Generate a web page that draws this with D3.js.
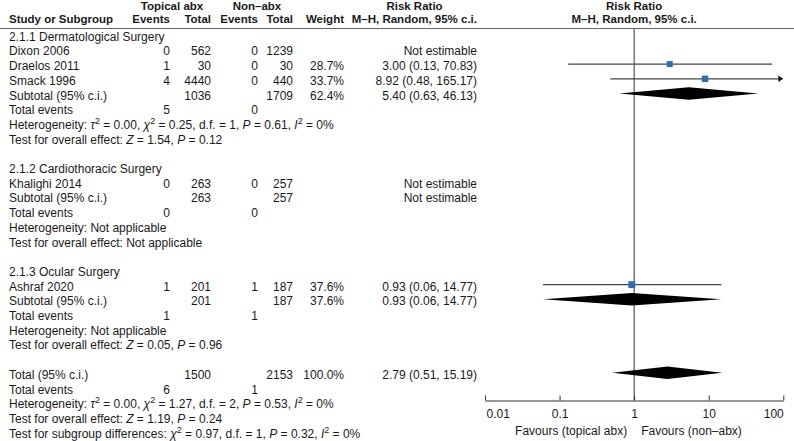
<!DOCTYPE html>
<html>
<head>
<meta charset="utf-8">
<script src="https://cdn.jsdelivr.net/npm/d3@7"></script>
<style>
  html, body { margin: 0; padding: 0; background: #fff; }
  svg { display: block; }
  text { font-family: "Liberation Sans", Arial, Helvetica, sans-serif; font-size: 12px; fill: #1a1a1a; }
  .bold { font-weight: bold; font-size: 11.5px; }
</style>
</head>
<body>
<svg id="chart" width="794" height="441"></svg>
<script>
// ---------- DATA ----------
const studyNames     = ["Dixon 2006", "Draelos 2011", "Smack 1996", "Khalighi 2014", "Ashraf 2020"];
const topicalEvents  = [0, 1, 4, 0, 1];
const topicalTotals  = [562, 30, 4440, 263, 201];
const nonEvents      = [0, 0, 0, 0, 1];
const nonTotals      = [1239, 30, 440, 257, 187];
const studyWeights   = [null, 28.7, 33.7, null, 37.6];
const studyRR        = [null, 3.00, 8.92, null, 0.93];
const studyLower     = [null, 0.13, 0.48, null, 0.06];
const studyUpper     = [null, 70.83, 165.17, null, 14.77];

const subgroupNames    = ["2.1.1 Dermatological Surgery", "2.1.2 Cardiothoracic Surgery", "2.1.3 Ocular Surgery"];
const subgroupMembers  = [[0, 1, 2], [3], [4]];
const subTopicalTotals = [1036, 263, 201];
const subNonTotals     = [1709, 257, 187];
const subTopicalEvents = [5, 0, 1];
const subNonEvents     = [0, 0, 1];
const subWeights       = [62.4, null, 37.6];
const subRR            = [5.40, null, 0.93];
const subLower         = [0.63, null, 0.06];
const subUpper         = [46.13, null, 14.77];
// heterogeneity: [tau2, chi2, df, P, I2] or null = not applicable
const subHeterogeneity = [["0.00", "0.25", "1", "0.61", "0%"], null, null];
// overall effect: [Z, P] or null
const subEffect        = [["1.54", "0.12"], null, ["0.05", "0.96"]];

const totalTopical = 1500, totalNon = 2153, totalWeight = 100.0;
const totalRR = 2.79, totalLower = 0.51, totalUpper = 15.19;
const totalTopicalEvents = 6, totalNonEvents = 1;
const totalHeterogeneity = ["0.00", "1.27", "2", "0.53", "0%"];
const totalEffect = ["1.19", "0.24"];
const subgroupDiff = ["0.97", "1", "0.32", "0%"]; // chi2, df, P, I2

const axisTicks = [0.01, 0.1, 1, 10, 100];
const axisTickLabels = ["0.01", "0.1", "1", "10", "100"];
const favoursLeft = "Favours (topical abx)";
const favoursRight = "Favours (non\u2013abx)";

// ---------- LAYOUT ----------
const svg = d3.select("#chart");
const row0 = 34.7, rowH = 14.7;
const rowY = i => row0 + i * rowH;
const textOff = 6;
const col = { name: 9, tEv: 170, tTot: 211, nEv: 258, nTot: 293, w: 344, rr: 477 };
const lineColor = "#444";
const squareColor = "#2d6db5";

const x = d3.scaleLog().domain([0.01, 100]).range([485, 783.3]);
const sz = d3.scaleSqrt().domain([0, 100]).range([0, 11.2]);
const axisY = 400.5;

// ---------- HEADER ----------
const hdr1 = 9.5, hdr2 = 23;
const H = (t, xx, y, anchor) => svg.append("text").attr("class", "bold").attr("x", xx).attr("y", y)
  .attr("text-anchor", anchor).text(t);
H("Topical abx", (133 + col.tTot) / 2, hdr1, "middle");
H("Non\u2013abx", (221 + col.nTot) / 2, hdr1, "middle");
H("Risk Ratio", (352 + col.rr) / 2, hdr1, "middle");
H("Risk Ratio", x(1), hdr1, "middle");
H("Study or Subgroup", col.name, hdr2, "start");
H("Events", col.tEv, hdr2, "end");
H("Total", col.tTot, hdr2, "end");
H("Events", col.nEv, hdr2, "end");
H("Total", col.nTot, hdr2, "end");
H("Weight", col.w, hdr2, "end");
H("M\u2013H, Random, 95% c.i.", col.rr, hdr2, "end");
H("M\u2013H, Random, 95% c.i.", x(1), hdr2, "middle");

svg.append("line").attr("x1", 0).attr("x2", 794).attr("y1", 28.5).attr("y2", 28.5)
  .attr("stroke", "#666").attr("stroke-width", 1);

// ---------- ROWS ----------
const rows = [];
subgroupNames.forEach((g, gi) => {
  rows.push({ kind: "heading", label: g });
  subgroupMembers[gi].forEach(si => rows.push({ kind: "study", si }));
  rows.push({ kind: "subtotal", gi });
  rows.push({ kind: "events", top: subTopicalEvents[gi], non: subNonEvents[gi] });
  rows.push({ kind: "het", h: subHeterogeneity[gi] });
  rows.push({ kind: "effect", e: subEffect[gi] });
  rows.push({ kind: "blank" });
});
rows.push({ kind: "total" });
rows.push({ kind: "events", top: totalTopicalEvents, non: totalNonEvents });
rows.push({ kind: "het", h: totalHeterogeneity });
rows.push({ kind: "effect", e: totalEffect });
rows.push({ kind: "diff" });

const fmtRR = (r, l, u) => r == null ? "Not estimable" : `${r.toFixed(2)} (${l.toFixed(2)}, ${u.toFixed(2)})`;
const fmtW = w => w == null ? "" : w.toFixed(1) + "%";

function T(t, xx, y, anchor) {
  return svg.append("text").attr("x", xx).attr("y", y).attr("text-anchor", anchor || "start").text(t);
}
function rich(xx, y, segs) {
  const t = svg.append("text").attr("x", xx).attr("y", y);
  segs.forEach(s => {
    const sp = t.append("tspan").text(s[0]);
    if (s[1] === "i") sp.attr("font-style", "italic");
    if (s[1] === "sup") sp.attr("baseline-shift", "super").attr("font-size", "9px");
  });
  return t;
}
const hetSegs = h => [["Heterogeneity: "], ["\u03C4", "i"], ["2", "sup"], [` = ${h[0]}, `], ["\u03C7", "i"], ["2", "sup"],
  [` = ${h[1]}, d.f. = ${h[2]}, `], ["P", "i"], [` = ${h[3]}, `], ["I", "i"], ["2", "sup"], [` = ${h[4]}`]];

function square(y, w, r) {
  const s = sz(w);
  svg.append("rect").attr("x", x(r) - s / 2).attr("y", y - s / 2).attr("width", s).attr("height", s)
    .attr("fill", squareColor);
}
function ciLine(y, lo, hi) {
  const lx = x(Math.max(lo, 0.01)), hx = x(Math.min(hi, 100));
  const clipHi = hi > 100;
  svg.append("line").attr("x1", lx).attr("x2", clipHi ? hx - 4 : hx).attr("y1", y).attr("y2", y)
    .attr("stroke", lineColor).attr("stroke-width", 1.2);
  if (clipHi) {
    svg.append("path").attr("d", d3.line()([[hx, y], [hx - 5, y - 3.2], [hx - 5, y + 3.2]]) + "Z")
      .attr("fill", "#111");
  }
}
function diamond(y, r, lo, hi) {
  const h = 6.3;
  svg.append("path").attr("d", d3.line()([[x(lo), y], [x(r), y - h], [x(hi), y], [x(r), y + h]]) + "Z")
    .attr("fill", "#000");
}

rows.forEach((r, i) => {
  const yc = rowY(i), yb = yc + textOff;
  switch (r.kind) {
    case "heading": T(r.label, col.name, yb); break;
    case "study": {
      const s = r.si;
      T(studyNames[s], col.name, yb);
      T(topicalEvents[s], col.tEv, yb, "end");
      T(topicalTotals[s], col.tTot, yb, "end");
      T(nonEvents[s], col.nEv, yb, "end");
      T(nonTotals[s], col.nTot, yb, "end");
      T(fmtW(studyWeights[s]), col.w, yb, "end");
      T(fmtRR(studyRR[s], studyLower[s], studyUpper[s]), col.rr, yb, "end");
      if (studyRR[s] != null) {
        ciLine(yc, studyLower[s], studyUpper[s]);
        square(yc, studyWeights[s], studyRR[s]);
      }
      break;
    }
    case "subtotal": {
      const g = r.gi;
      T("Subtotal (95% c.i.)", col.name, yb);
      T(subTopicalTotals[g], col.tTot, yb, "end");
      T(subNonTotals[g], col.nTot, yb, "end");
      T(fmtW(subWeights[g]), col.w, yb, "end");
      T(fmtRR(subRR[g], subLower[g], subUpper[g]), col.rr, yb, "end");
      if (subRR[g] != null) diamond(yc, subRR[g], subLower[g], subUpper[g]);
      break;
    }
    case "events":
      T("Total events", col.name, yb);
      T(r.top, col.tEv, yb, "end");
      T(r.non, col.nEv, yb, "end");
      break;
    case "het":
      if (r.h == null) T("Heterogeneity: Not applicable", col.name, yb);
      else rich(col.name, yb, hetSegs(r.h));
      break;
    case "effect":
      if (r.e == null) T("Test for overall effect: Not applicable", col.name, yb);
      else rich(col.name, yb, [["Test for overall effect: "], ["Z", "i"], [` = ${r.e[0]}, `], ["P", "i"], [` = ${r.e[1]}`]]);
      break;
    case "total":
      T("Total (95% c.i.)", col.name, yb);
      T(totalTopical, col.tTot, yb, "end");
      T(totalNon, col.nTot, yb, "end");
      T(fmtW(totalWeight), col.w, yb, "end");
      T(fmtRR(totalRR, totalLower, totalUpper), col.rr, yb, "end");
      diamond(yc, totalRR, totalLower, totalUpper);
      break;
    case "diff":
      rich(col.name, yb, [["Test for subgroup differences: "], ["\u03C7", "i"], ["2", "sup"],
        [` = ${subgroupDiff[0]}, d.f. = ${subgroupDiff[1]}, `], ["P", "i"], [` = ${subgroupDiff[2]}, `],
        ["I", "i"], ["2", "sup"], [` = ${subgroupDiff[3]}`]]);
      break;
  }
});

// ---------- NULL LINE ----------
svg.insert("line", ":first-child").attr("x1", x(1)).attr("x2", x(1)).attr("y1", 28.5).attr("y2", axisY)
  .attr("stroke", "#333").attr("stroke-width", 1);

// ---------- AXIS ----------
const axis = d3.axisBottom(x).tickValues(axisTicks).tickFormat((d, i) => axisTickLabels[i])
  .tickSizeInner(-5).tickSizeOuter(0).tickPadding(8.5);
const gAx = svg.append("g").attr("transform", `translate(0,${axisY})`).call(axis);
gAx.select(".domain").attr("stroke", "#333");
gAx.selectAll(".tick line").attr("stroke", "#333");
gAx.selectAll(".tick text").attr("fill", "#1a1a1a")
  .style("font-family", '"Liberation Sans", Arial, sans-serif').style("font-size", "12px");
gAx.selectAll(".tick text").filter((d, i) => i === 0).attr("text-anchor", "start").attr("x", 1);
gAx.selectAll(".tick text").filter((d, i, n) => i === n.length - 1).attr("text-anchor", "end").attr("x", 0);

T(favoursLeft, x(1) - 7, 435, "end");
T(favoursRight, x(1) + 7, 435, "start");
</script>
</body>
</html>
